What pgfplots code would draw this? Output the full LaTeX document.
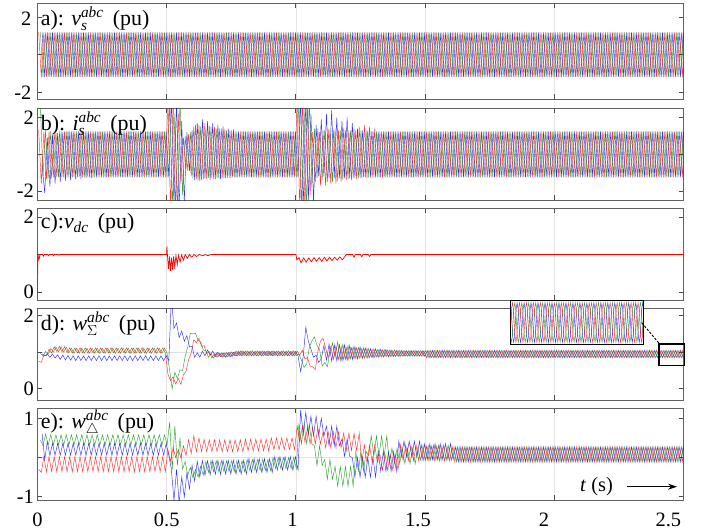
\documentclass[border=0pt]{standalone}
\usepackage{fontspec}
\setmainfont{Liberation Serif}
\usepackage{pgfplots}
\pgfplotsset{compat=1.18}
\usepackage{pgfplotstable}
\usetikzlibrary{arrows.meta}

\definecolor{phr}{RGB}{255,0,0}
\definecolor{phg}{RGB}{0,140,0}
\definecolor{phb}{RGB}{0,0,255}
\newcommand\mi[1]{\mathit{#1}}

% one sample per half cycle (50 Hz), row k at t = 0.005 + 0.01k for phase a
\pgfplotstableread[row sep=\\]{
v\\
1.2\\-1.2\\1.2\\-1.2\\1.2\\-1.2\\1.2\\-1.2\\1.2\\-1.2\\
1.2\\-1.2\\1.2\\-1.2\\1.2\\-1.2\\1.2\\-1.2\\1.2\\-1.2\\
1.2\\-1.2\\1.2\\-1.2\\1.2\\-1.2\\1.2\\-1.2\\1.2\\-1.2\\
1.2\\-1.2\\1.2\\-1.2\\1.2\\-1.2\\1.2\\-1.2\\1.2\\-1.2\\
1.2\\-1.2\\1.2\\-1.2\\1.2\\-1.2\\1.2\\-1.2\\1.2\\-1.2\\
1.2\\-1.2\\1.2\\-1.2\\1.2\\-1.2\\1.2\\-1.2\\1.2\\-1.2\\
1.2\\-1.2\\1.2\\-1.2\\1.2\\-1.2\\1.2\\-1.2\\1.2\\-1.2\\
1.2\\-1.2\\1.2\\-1.2\\1.2\\-1.2\\1.2\\-1.2\\1.2\\-1.2\\
1.2\\-1.2\\1.2\\-1.2\\1.2\\-1.2\\1.2\\-1.2\\1.2\\-1.2\\
1.2\\-1.2\\1.2\\-1.2\\1.2\\-1.2\\1.2\\-1.2\\1.2\\-1.2\\
1.2\\-1.2\\1.2\\-1.2\\1.2\\-1.2\\1.2\\-1.2\\1.2\\-1.2\\
1.2\\-1.2\\1.2\\-1.2\\1.2\\-1.2\\1.2\\-1.2\\1.2\\-1.2\\
1.2\\-1.2\\1.2\\-1.2\\1.2\\-1.2\\1.2\\-1.2\\1.2\\-1.2\\
1.2\\-1.2\\1.2\\-1.2\\1.2\\-1.2\\1.2\\-1.2\\1.2\\-1.2\\
1.2\\-1.2\\1.2\\-1.2\\1.2\\-1.2\\1.2\\-1.2\\1.2\\-1.2\\
1.2\\-1.2\\1.2\\-1.2\\1.2\\-1.2\\1.2\\-1.2\\1.2\\-1.2\\
1.2\\-1.2\\1.2\\-1.2\\1.2\\-1.2\\1.2\\-1.2\\1.2\\-1.2\\
1.2\\-1.2\\1.2\\-1.2\\1.2\\-1.2\\1.2\\-1.2\\1.2\\-1.2\\
1.2\\-1.2\\1.2\\-1.2\\1.2\\-1.2\\1.2\\-1.2\\1.2\\-1.2\\
1.2\\-1.2\\1.2\\-1.2\\1.2\\-1.2\\1.2\\-1.2\\1.2\\-1.2\\
1.2\\-1.2\\1.2\\-1.2\\1.2\\-1.2\\1.2\\-1.2\\1.2\\-1.2\\
1.2\\-1.2\\1.2\\-1.2\\1.2\\-1.2\\1.2\\-1.2\\1.2\\-1.2\\
1.2\\-1.2\\1.2\\-1.2\\1.2\\-1.2\\1.2\\-1.2\\1.2\\-1.2\\
1.2\\-1.2\\1.2\\-1.2\\1.2\\-1.2\\1.2\\-1.2\\1.2\\-1.2\\
1.2\\-1.2\\1.2\\-1.2\\1.2\\-1.2\\1.2\\-1.2\\1.2\\-1.2\\
1.2\\
}\tba

% currents i_s (columns: red, green, blue)
\pgfplotstableread[row sep=\\]{
A B C\\
1.3 2.6 -0.6\\-1.6 -1.2 -2.1\\1.25 1.3 0.9\\-1.35 -1.3 -1.75\\1.25 1.25 1.05\\-1.3 -1.25 -1.6\\1.25 1.25 1.15\\-1.25 -1.25 -1.5\\1.25 1.25 1.2\\-1.25 -1.25 -1.45\\
1.25 1.25 1.25\\-1.25 -1.25 -1.4\\1.25 1.25 1.25\\-1.25 -1.25 -1.35\\1.25 1.25 1.25\\-1.25 -1.25 -1.35\\1.25 1.25 1.25\\-1.25 -1.25 -1.3\\1.25 1.25 1.25\\-1.25 -1.25 -1.3\\
1.25 1.25 1.25\\-1.25 -1.25 -1.25\\1.25 1.25 1.25\\-1.25 -1.25 -1.25\\1.25 1.25 1.25\\-1.25 -1.25 -1.25\\1.25 1.25 1.25\\-1.25 -1.25 -1.25\\1.25 1.25 1.25\\-1.25 -1.25 -1.25\\
1.25 1.25 1.25\\-1.25 -1.25 -1.25\\1.25 1.25 1.25\\-1.25 -1.25 -1.25\\1.25 1.25 1.25\\-1.25 -1.25 -1.25\\1.25 1.25 1.25\\-1.25 -1.25 -1.25\\1.25 1.25 1.25\\-1.25 -1.25 -1.25\\
1.25 1.25 1.25\\-1.25 -1.25 -1.25\\1.25 1.25 1.25\\-1.25 -1.25 -1.25\\1.25 1.25 1.25\\-1.25 -1.25 -1.25\\1.25 1.25 1.25\\-1.25 -1.25 -1.25\\1.25 1.25 1.25\\-1.25 -1.25 -1.25\\
3 2.8 3\\-3 -3 -2.8\\3 2.2 3\\-3 -3 -3\\2.2 3 1.8\\-1.6 -2.2 -2.6\\0.9 1 1.2\\-0.8 -0.9 -0.9\\1.1 1.2 1.3\\-1.2 -1.3 -1.4\\
1.5 1.6 1.7\\-1.35 -1.4 -1.45\\1.6 1.5 1.9\\-1.4 -1.35 -1.3\\1.7 1.45 1.8\\-1.35 -1.3 -1.4\\1.55 1.5 1.7\\-1.3 -1.35 -1.35\\1.5 1.4 1.6\\-1.3 -1.3 -1.35\\
1.4 1.4 1.5\\-1.3 -1.3 -1.3\\1.35 1.3 1.4\\-1.28 -1.3 -1.28\\1.3 1.3 1.35\\-1.25 -1.25 -1.25\\1.25 1.25 1.25\\-1.25 -1.25 -1.25\\1.25 1.25 1.25\\-1.25 -1.25 -1.25\\
1.25 1.25 1.25\\-1.25 -1.25 -1.25\\1.25 1.25 1.25\\-1.25 -1.25 -1.25\\1.25 1.25 1.25\\-1.25 -1.25 -1.25\\1.25 1.25 1.25\\-1.25 -1.25 -1.25\\1.25 1.25 1.25\\-1.25 -1.25 -1.25\\
1.25 1.25 1.25\\-1.25 -1.25 -1.25\\1.25 1.25 1.25\\-1.25 -1.25 -1.25\\1.25 1.25 1.25\\-1.25 -1.25 -1.25\\1.25 1.25 1.25\\-1.25 -1.25 -1.25\\1.25 1.25 1.25\\-1.25 -1.25 -1.25\\
3 3 3\\-3 -3 -3\\3 2.6 3\\-3 -3 -2.5\\2.5 3 2.2\\-2.2 -1.8 -2.6\\1.2 1.4 1.6\\-1.5 -1.3 -1.2\\1.4 1.2 1.9\\-1.7 -1.4 -1.2\\
1.3 1.3 2.2\\-1.7 -1.5 -1.3\\1.4 1.3 2.4\\-1.6 -1.5 -1.3\\1.3 1.4 2\\-1.6 -1.45 -1.3\\1.3 1.3 1.8\\-1.5 -1.4 -1.3\\1.4 1.3 2\\-1.4 -1.35 -1.3\\
1.3 1.3 1.7\\-1.4 -1.3 -1.3\\1.4 1.3 1.4\\-1.35 -1.3 -1.28\\1.5 1.3 1.3\\-1.3 -1.25 -1.25\\1.6 1.3 1.3\\-1.3 -1.25 -1.25\\1.5 1.25 1.25\\-1.28 -1.25 -1.25\\
1.4 1.25 1.25\\-1.25 -1.25 -1.25\\1.25 1.25 1.25\\-1.25 -1.25 -1.25\\1.25 1.25 1.25\\-1.25 -1.25 -1.25\\1.25 1.25 1.25\\-1.25 -1.25 -1.25\\1.25 1.25 1.25\\-1.25 -1.25 -1.25\\
1.25 1.25 1.25\\-1.25 -1.25 -1.25\\1.25 1.25 1.25\\-1.25 -1.25 -1.25\\1.25 1.25 1.25\\-1.25 -1.25 -1.25\\1.25 1.25 1.25\\-1.25 -1.25 -1.25\\1.25 1.25 1.25\\-1.25 -1.25 -1.25\\
1.25 1.25 1.25\\-1.25 -1.25 -1.25\\1.25 1.25 1.25\\-1.25 -1.25 -1.25\\1.25 1.25 1.25\\-1.25 -1.25 -1.25\\1.25 1.25 1.25\\-1.25 -1.25 -1.25\\1.25 1.25 1.25\\-1.25 -1.25 -1.25\\
1.25 1.25 1.25\\-1.25 -1.25 -1.25\\1.25 1.25 1.25\\-1.25 -1.25 -1.25\\1.25 1.25 1.25\\-1.25 -1.25 -1.25\\1.25 1.25 1.25\\-1.25 -1.25 -1.25\\1.25 1.25 1.25\\-1.25 -1.25 -1.25\\
1.25 1.25 1.25\\-1.25 -1.25 -1.25\\1.25 1.25 1.25\\-1.25 -1.25 -1.25\\1.25 1.25 1.25\\-1.25 -1.25 -1.25\\1.25 1.25 1.25\\-1.25 -1.25 -1.25\\1.25 1.25 1.25\\-1.25 -1.25 -1.25\\
1.25 1.25 1.25\\-1.25 -1.25 -1.25\\1.25 1.25 1.25\\-1.25 -1.25 -1.25\\1.25 1.25 1.25\\-1.25 -1.25 -1.25\\1.25 1.25 1.25\\-1.25 -1.25 -1.25\\1.25 1.25 1.25\\-1.25 -1.25 -1.25\\
1.25 1.25 1.25\\-1.25 -1.25 -1.25\\1.25 1.25 1.25\\-1.25 -1.25 -1.25\\1.25 1.25 1.25\\-1.25 -1.25 -1.25\\1.25 1.25 1.25\\-1.25 -1.25 -1.25\\1.25 1.25 1.25\\-1.25 -1.25 -1.25\\
1.25 1.25 1.25\\-1.25 -1.25 -1.25\\1.25 1.25 1.25\\-1.25 -1.25 -1.25\\1.25 1.25 1.25\\-1.25 -1.25 -1.25\\1.25 1.25 1.25\\-1.25 -1.25 -1.25\\1.25 1.25 1.25\\-1.25 -1.25 -1.25\\
1.25 1.25 1.25\\-1.25 -1.25 -1.25\\1.25 1.25 1.25\\-1.25 -1.25 -1.25\\1.25 1.25 1.25\\-1.25 -1.25 -1.25\\1.25 1.25 1.25\\-1.25 -1.25 -1.25\\1.25 1.25 1.25\\-1.25 -1.25 -1.25\\
1.25 1.25 1.25\\-1.25 -1.25 -1.25\\1.25 1.25 1.25\\-1.25 -1.25 -1.25\\1.25 1.25 1.25\\-1.25 -1.25 -1.25\\1.25 1.25 1.25\\-1.25 -1.25 -1.25\\1.25 1.25 1.25\\-1.25 -1.25 -1.25\\
1.25 1.25 1.25\\-1.25 -1.25 -1.25\\1.25 1.25 1.25\\-1.25 -1.25 -1.25\\1.25 1.25 1.25\\-1.25 -1.25 -1.25\\1.25 1.25 1.25\\-1.25 -1.25 -1.25\\1.25 1.25 1.25\\-1.25 -1.25 -1.25\\
1.25 1.25 1.25\\-1.25 -1.25 -1.25\\1.25 1.25 1.25\\-1.25 -1.25 -1.25\\1.25 1.25 1.25\\-1.25 -1.25 -1.25\\1.25 1.25 1.25\\-1.25 -1.25 -1.25\\1.25 1.25 1.25\\-1.25 -1.25 -1.25\\
1.25 1.25 1.25\\-1.25 -1.25 -1.25\\1.25 1.25 1.25\\-1.25 -1.25 -1.25\\1.25 1.25 1.25\\-1.25 -1.25 -1.25\\1.25 1.25 1.25\\-1.25 -1.25 -1.25\\1.25 1.25 1.25\\-1.25 -1.25 -1.25\\
1.25 1.25 1.25\\
}\tbb

% sum energies w_sigma
\pgfplotstableread[row sep=\\]{
A B C\\
0.75 0.97 0.95\\0.72 0.9 0.9\\0.92 1.02 0.95\\0.9 0.95 0.86\\1.08 1.1 0.95\\0.98 1 0.84\\1.15 1.14 0.93\\1.02 1.01 0.8\\1.16 1.15 0.92\\1.01 1 0.79\\
1.15 1.14 0.91\\0.99 0.98 0.78\\1.12 1.11 0.9\\0.98 0.97 0.77\\1.12 1.11 0.9\\0.98 0.97 0.77\\1.12 1.11 0.9\\0.98 0.97 0.77\\1.12 1.11 0.9\\0.98 0.97 0.77\\
1.12 1.11 0.9\\0.98 0.97 0.77\\1.12 1.11 0.9\\0.98 0.97 0.77\\1.12 1.11 0.9\\0.98 0.97 0.77\\1.12 1.11 0.9\\0.98 0.97 0.77\\1.12 1.11 0.9\\0.98 0.97 0.77\\
1.12 1.11 0.9\\0.98 0.97 0.77\\1.12 1.11 0.9\\0.98 0.97 0.77\\1.12 1.11 0.9\\0.98 0.97 0.77\\1.12 1.11 0.9\\0.98 0.97 0.77\\1.12 1.11 0.9\\0.98 0.97 0.77\\
1.12 1.11 0.9\\0.98 0.97 0.77\\1.12 1.11 0.9\\0.98 0.97 0.77\\1.12 1.11 0.9\\0.98 0.97 0.77\\1.12 1.11 0.9\\0.98 0.97 0.77\\1.12 1.11 0.9\\0.98 0.97 0.77\\
0.4 0.5 2.5\\0.22 0 1.65\\0.33 0.45 1.8\\0.13 0.28 1.4\\0.28 0.52 1.58\\0.12 0.5 1.3\\0.38 0.88 1.45\\0.48 1.15 1.15\\0.8 1.52 1.15\\0.98 1.5 0.86\\
1.34 1.52 0.98\\1.26 1.32 0.86\\1.38 1.28 1.03\\1.16 1.06 0.9\\1.18 1.04 1.06\\0.96 0.86 0.92\\1.02 0.96 1.03\\0.84 0.84 0.88\\0.96 0.98 1\\0.86 0.88 0.88\\
0.97 0.98 0.98\\0.86 0.87 0.86\\0.98 0.99 0.99\\0.87 0.88 0.87\\1 1.01 1\\0.89 0.9 0.89\\1.02 1.03 1.02\\0.9 0.91 0.9\\1.03 1.04 1.02\\0.9 0.91 0.9\\
1.03 1.04 1.02\\0.9 0.91 0.9\\1.03 1.04 1.02\\0.9 0.91 0.9\\1.03 1.04 1.02\\0.9 0.91 0.9\\1.03 1.04 1.02\\0.9 0.91 0.9\\1.03 1.04 1.02\\0.9 0.91 0.9\\
1.03 1.04 1.02\\0.9 0.91 0.9\\1.03 1.04 1.02\\0.9 0.91 0.9\\1.03 1.04 1.02\\0.9 0.91 0.9\\1.03 1.04 1.02\\0.9 0.91 0.9\\1.03 1.04 1.02\\0.9 0.91 0.9\\
1.03 0.95 0.47\\0.92 0.78 0.88\\1.05 0.58 1.68\\0.82 0.68 1.3\\0.85 1.12 1.08\\0.62 1.3 0.86\\0.6 1.42 0.92\\0.52 1.18 0.72\\1.02 1.08 0.82\\1.3 0.62 1.18\\
1.38 0.72 0.78\\1.12 0.6 1.22\\0.85 1 0.76\\1.15 1.25 1.2\\0.8 0.85 0.76\\1.18 1.28 1.2\\0.8 0.78 0.76\\1.15 1.22 1.2\\0.8 0.8 0.78\\1.12 1.18 1.18\\
0.8 0.82 0.8\\1.12 1.15 1.15\\0.82 0.83 0.82\\1.12 1.13 1.14\\0.83 0.84 0.83\\1.1 1.12 1.12\\0.84 0.85 0.84\\1.1 1.1 1.1\\0.85 0.86 0.85\\1.08 1.09 1.09\\
0.86 0.87 0.86\\1.07 1.08 1.08\\0.87 0.87 0.87\\1.06 1.07 1.07\\0.88 0.88 0.87\\1.06 1.06 1.06\\0.88 0.88 0.88\\1.05 1.06 1.05\\0.88 0.89 0.88\\1.05 1.05 1.05\\
0.89 0.89 0.89\\1.04 1.05 1.04\\0.89 0.89 0.89\\1.04 1.05 1.04\\0.89 0.89 0.89\\1.04 1.05 1.04\\0.89 0.89 0.89\\1.04 1.05 1.04\\0.89 0.89 0.89\\1.04 1.05 1.04\\
0.85 0.85 0.85\\1.05 1.05 1.05\\0.85 0.85 0.85\\1.05 1.05 1.05\\0.85 0.85 0.85\\1.05 1.05 1.05\\0.85 0.85 0.85\\1.05 1.05 1.05\\0.85 0.85 0.85\\1.05 1.05 1.05\\
0.85 0.85 0.85\\1.05 1.05 1.05\\0.85 0.85 0.85\\1.05 1.05 1.05\\0.85 0.85 0.85\\1.05 1.05 1.05\\0.85 0.85 0.85\\1.05 1.05 1.05\\0.85 0.85 0.85\\1.05 1.05 1.05\\
0.85 0.85 0.85\\1.05 1.05 1.05\\0.85 0.85 0.85\\1.05 1.05 1.05\\0.85 0.85 0.85\\1.05 1.05 1.05\\0.85 0.85 0.85\\1.05 1.05 1.05\\0.85 0.85 0.85\\1.05 1.05 1.05\\
0.85 0.85 0.85\\1.05 1.05 1.05\\0.85 0.85 0.85\\1.05 1.05 1.05\\0.85 0.85 0.85\\1.05 1.05 1.05\\0.85 0.85 0.85\\1.05 1.05 1.05\\0.85 0.85 0.85\\1.05 1.05 1.05\\
0.85 0.85 0.85\\1.05 1.05 1.05\\0.85 0.85 0.85\\1.05 1.05 1.05\\0.85 0.85 0.85\\1.05 1.05 1.05\\0.85 0.85 0.85\\1.05 1.05 1.05\\0.85 0.85 0.85\\1.05 1.05 1.05\\
0.85 0.85 0.85\\1.05 1.05 1.05\\0.85 0.85 0.85\\1.05 1.05 1.05\\0.85 0.85 0.85\\1.05 1.05 1.05\\0.85 0.85 0.85\\1.05 1.05 1.05\\0.85 0.85 0.85\\1.05 1.05 1.05\\
0.85 0.85 0.85\\1.05 1.05 1.05\\0.85 0.85 0.85\\1.05 1.05 1.05\\0.85 0.85 0.85\\1.05 1.05 1.05\\0.85 0.85 0.85\\1.05 1.05 1.05\\0.85 0.85 0.85\\1.05 1.05 1.05\\
0.85 0.85 0.85\\1.05 1.05 1.05\\0.85 0.85 0.85\\1.05 1.05 1.05\\0.85 0.85 0.85\\1.05 1.05 1.05\\0.85 0.85 0.85\\1.05 1.05 1.05\\0.85 0.85 0.85\\1.05 1.05 1.05\\
0.85 0.85 0.85\\1.05 1.05 1.05\\0.85 0.85 0.85\\1.05 1.05 1.05\\0.85 0.85 0.85\\1.05 1.05 1.05\\0.85 0.85 0.85\\1.05 1.05 1.05\\0.85 0.85 0.85\\1.05 1.05 1.05\\
0.85 0.85 0.85\\1.05 1.05 1.05\\0.85 0.85 0.85\\1.05 1.05 1.05\\0.85 0.85 0.85\\1.05 1.05 1.05\\0.85 0.85 0.85\\1.05 1.05 1.05\\0.85 0.85 0.85\\1.05 1.05 1.05\\
0.85 0.85 0.85\\
}\tbd

% difference energies w_delta
\pgfplotstableread[row sep=\\]{
A B C\\
-0.3 0.45 0.6\\-0.38 0.3 -0.05\\0.02 0.6 0.4\\-0.36 0.32 0.05\\0.02 0.58 0.36\\-0.36 0.32 0.06\\0.02 0.58 0.36\\-0.36 0.32 0.06\\0.02 0.58 0.36\\-0.36 0.32 0.06\\
0.02 0.58 0.36\\-0.36 0.32 0.06\\0.02 0.58 0.36\\-0.36 0.32 0.06\\0.02 0.58 0.36\\-0.36 0.32 0.06\\0.02 0.58 0.36\\-0.36 0.32 0.06\\0.02 0.58 0.36\\-0.36 0.32 0.06\\
0.02 0.58 0.36\\-0.36 0.32 0.06\\0.02 0.58 0.36\\-0.36 0.32 0.06\\0.02 0.58 0.36\\-0.36 0.32 0.06\\0.02 0.58 0.36\\-0.36 0.32 0.06\\0.02 0.58 0.36\\-0.36 0.32 0.06\\
0.02 0.58 0.36\\-0.36 0.32 0.06\\0.02 0.58 0.36\\-0.36 0.32 0.06\\0.02 0.58 0.36\\-0.36 0.32 0.06\\0.02 0.58 0.36\\-0.36 0.32 0.06\\0.02 0.58 0.36\\-0.36 0.32 0.06\\
0.02 0.58 0.36\\-0.36 0.32 0.06\\0.02 0.58 0.36\\-0.36 0.32 0.06\\0.02 0.58 0.36\\-0.36 0.32 0.06\\0.02 0.58 0.36\\-0.36 0.32 0.06\\0.02 0.58 0.36\\-0.36 0.32 0.06\\
0.2 0.9 -0.3\\-0.1 -0.3 -1.1\\0.25 0.8 -0.3\\0 -0.2 -1.15\\0.2 0.5 -0.5\\0 -0.3 -1\\0.3 -0.1 -0.4\\0.05 -0.45 -0.8\\0.45 -0.25 -0.2\\0.1 -0.52 -0.6\\
0.55 -0.3 -0.1\\0.15 -0.5 -0.5\\0.5 -0.22 -0.08\\0.15 -0.45 -0.45\\0.46 -0.1 -0.08\\0.15 -0.38 -0.44\\0.45 -0.08 -0.08\\0.15 -0.36 -0.43\\0.45 -0.08 -0.07\\0.15 -0.36 -0.43\\
0.45 -0.08 -0.07\\0.15 -0.36 -0.42\\0.45 -0.08 -0.07\\0.15 -0.36 -0.42\\0.45 -0.08 -0.07\\0.15 -0.36 -0.42\\0.45 -0.08 -0.07\\0.15 -0.36 -0.42\\0.45 -0.08 -0.07\\0.15 -0.36 -0.42\\
0.47 -0.05 -0.03\\0.17 -0.33 -0.38\\0.47 -0.05 -0.03\\0.17 -0.33 -0.38\\0.47 -0.05 -0.03\\0.17 -0.33 -0.38\\0.47 -0.05 -0.03\\0.17 -0.33 -0.38\\0.47 -0.05 -0.03\\0.17 -0.33 -0.38\\
0.5 0 0.02\\0.2 -0.28 -0.32\\0.5 0 0.02\\0.2 -0.28 -0.32\\0.5 0 0.02\\0.2 -0.28 -0.32\\0.5 0 0.02\\0.2 -0.28 -0.32\\0.5 0 0.02\\0.2 -0.28 -0.32\\
0.8 0.87 1.21\\0.4 0.35 0.6\\0.8 0.85 1.15\\0.4 0.35 0.6\\0.75 0.85 1.05\\0.35 0.35 0.55\\0.75 0.3 1.05\\0.35 -0.2 0.55\\0.75 0.3 1\\0.35 -0.2 0.55\\
0.65 -0.05 0.8\\0.25 -0.55 0.3\\0.65 -0.05 0.8\\0.25 -0.55 0.3\\0.65 -0.23 0.8\\0.25 -0.73 0.3\\0.65 -0.23 0.47\\0.25 -0.73 0.03\\0.62 -0.23 0.47\\0.18 -0.73 0.03\\
0.62 -0.23 0\\0.18 -0.73 -0.5\\0.62 0.15 0\\0.18 -0.35 -0.5\\0.62 0.15 0\\-0.12 -0.35 -0.5\\0.32 0.15 0\\-0.12 0.05 -0.5\\0.32 0.55 0\\-0.12 0.05 -0.5\\
0.32 0.55 0.15\\-0.12 0.05 -0.35\\0.08 0.55 0.15\\-0.32 0.05 -0.35\\0.08 0.55 0.15\\-0.32 -0.16 -0.35\\0.08 0.24 0.15\\-0.32 -0.16 -0.35\\0.08 0.24 0.42\\-0.32 -0.16 0.02\\
0.32 0.24 0.42\\-0.08 -0.16 0.02\\0.32 0.24 0.42\\-0.08 -0.16 0.02\\0.32 0.24 0.42\\-0.08 -0.16 0.02\\0.32 0.24 0.42\\-0.08 -0.07 -0.05\\0.32 0.31 0.35\\-0.08 -0.07 -0.05\\
0.29 0.31 0.35\\-0.09 -0.07 -0.05\\0.29 0.31 0.35\\-0.09 -0.07 -0.05\\0.29 0.31 0.35\\-0.09 -0.07 -0.05\\0.29 0.31 0.35\\-0.09 -0.07 -0.05\\0.29 0.31 0.35\\-0.09 -0.07 -0.05\\
0.27 0.27 0.27\\-0.11 -0.11 -0.11\\0.27 0.27 0.27\\-0.11 -0.11 -0.11\\0.27 0.27 0.27\\-0.11 -0.11 -0.11\\0.27 0.27 0.27\\-0.11 -0.11 -0.11\\0.27 0.27 0.27\\-0.11 -0.11 -0.11\\
0.27 0.27 0.27\\-0.11 -0.11 -0.11\\0.27 0.27 0.27\\-0.11 -0.11 -0.11\\0.27 0.27 0.27\\-0.11 -0.11 -0.11\\0.27 0.27 0.27\\-0.11 -0.11 -0.11\\0.27 0.27 0.27\\-0.11 -0.11 -0.11\\
0.27 0.27 0.27\\-0.11 -0.11 -0.11\\0.27 0.27 0.27\\-0.11 -0.11 -0.11\\0.27 0.27 0.27\\-0.11 -0.11 -0.11\\0.27 0.27 0.27\\-0.11 -0.11 -0.11\\0.27 0.27 0.27\\-0.11 -0.11 -0.11\\
0.27 0.27 0.27\\-0.11 -0.11 -0.11\\0.27 0.27 0.27\\-0.11 -0.11 -0.11\\0.27 0.27 0.27\\-0.11 -0.11 -0.11\\0.27 0.27 0.27\\-0.11 -0.11 -0.11\\0.27 0.27 0.27\\-0.11 -0.11 -0.11\\
0.27 0.27 0.27\\-0.11 -0.11 -0.11\\0.27 0.27 0.27\\-0.11 -0.11 -0.11\\0.27 0.27 0.27\\-0.11 -0.11 -0.11\\0.27 0.27 0.27\\-0.11 -0.11 -0.11\\0.27 0.27 0.27\\-0.11 -0.11 -0.11\\
0.27 0.27 0.27\\-0.11 -0.11 -0.11\\0.27 0.27 0.27\\-0.11 -0.11 -0.11\\0.27 0.27 0.27\\-0.11 -0.11 -0.11\\0.27 0.27 0.27\\-0.11 -0.11 -0.11\\0.27 0.27 0.27\\-0.11 -0.11 -0.11\\
0.27 0.27 0.27\\-0.11 -0.11 -0.11\\0.27 0.27 0.27\\-0.11 -0.11 -0.11\\0.27 0.27 0.27\\-0.11 -0.11 -0.11\\0.27 0.27 0.27\\-0.11 -0.11 -0.11\\0.27 0.27 0.27\\-0.11 -0.11 -0.11\\
0.27 0.27 0.27\\-0.11 -0.11 -0.11\\0.27 0.27 0.27\\-0.11 -0.11 -0.11\\0.27 0.27 0.27\\-0.11 -0.11 -0.11\\0.27 0.27 0.27\\-0.11 -0.11 -0.11\\0.27 0.27 0.27\\-0.11 -0.11 -0.11\\
0.27 0.27 0.27\\-0.11 -0.11 -0.11\\0.27 0.27 0.27\\-0.11 -0.11 -0.11\\0.27 0.27 0.27\\-0.11 -0.11 -0.11\\0.27 0.27 0.27\\-0.11 -0.11 -0.11\\0.27 0.27 0.27\\-0.11 -0.11 -0.11\\
0.27 0.27 0.27\\
}\tbe

% zoomed window, 8 samples per cycle
\pgfplotstableread[row sep=\\]{
s\\
0\\0.71\\1\\0.71\\0\\-0.71\\-1\\-0.71\\0\\0.71\\1\\0.71\\0\\-0.71\\-1\\-0.71\\
0\\0.71\\1\\0.71\\0\\-0.71\\-1\\-0.71\\0\\0.71\\1\\0.71\\0\\-0.71\\-1\\-0.71\\
0\\0.71\\1\\0.71\\0\\-0.71\\-1\\-0.71\\0\\0.71\\1\\0.71\\0\\-0.71\\-1\\-0.71\\
0\\0.71\\1\\0.71\\0\\-0.71\\-1\\-0.71\\0\\0.71\\1\\0.71\\0\\-0.71\\-1\\-0.71\\
0\\0.71\\1\\0.71\\0\\-0.71\\-1\\-0.71\\0\\0.71\\1\\0.71\\0\\-0.71\\-1\\-0.71\\
0\\0.71\\1\\0.71\\0\\-0.71\\-1\\-0.71\\0\\0.71\\1\\0.71\\0\\-0.71\\-1\\-0.71\\
0\\0.71\\1\\0.71\\0\\-0.71\\-1\\-0.71\\0\\0.71\\1\\0.71\\0\\-0.71\\-1\\-0.71\\
0\\0.71\\1\\0.71\\0\\-0.71\\-1\\-0.71\\0\\0.71\\1\\0.71\\0\\-0.71\\-1\\-0.71\\
0\\0.71\\1\\0.71\\0\\-0.71\\-1\\-0.71\\0\\0.71\\1\\0.71\\0\\-0.71\\-1\\-0.71\\
0\\0.71\\1\\0.71\\0\\-0.71\\-1\\-0.71\\0\\0.71\\1\\0.71\\0\\-0.71\\-1\\-0.71\\
0\\0.71\\1\\0.71\\0\\-0.71\\-1\\-0.71\\
0\\
}\tbi

\pgfplotsset{
  panel/.style={
    scale only axis, width=646.2bp, xmin=0, xmax=2.5,
    axis line style={draw=black!62, line width=0.8bp},
    tick style={draw=black!70, line width=0.8bp},
    major tick length=5bp, tick align=inside,
    xtick={0,0.5,1,1.5,2,2.5}, xticklabels={},
    xmajorgrids=true, grid style={black!11, line width=0.6bp},
    extra y tick labels={}, extra y tick style={grid=major},
    yticklabel style={font=\fontsize{20.5}{21}\selectfont},
  },
  ph/.style={line width=0.45bp, opacity=0.8},
}
\tikzset{
  lab/.style={anchor=base west, inner sep=0pt, xshift=3.3bp, yshift=-22bp,
    font=\fontsize{22}{23}\selectfont},
  tl/.style={inner sep=0pt, font=\fontsize{20.5}{21}\selectfont},
}

\begin{document}
\begin{tikzpicture}
\useasboundingbox (0,0) rectangle (713bp,529bp);

\begin{axis}[panel, at={(37.4bp,429.5bp)}, anchor=south west, height=96bp,
  ymin=-2.4, ymax=2.75, ytick={-2,0,2}, yticklabels={{},{},{}}, extra y ticks={0}]
\addplot[phb,ph] table[x expr=\coordindex*0.01+0.01833, y=v]{\tba};
\addplot[phg,ph] table[x expr=\coordindex*0.01+0.01167, y=v]{\tba};
\addplot[phr,ph] table[x expr=\coordindex*0.01+0.005, y=v]{\tba};
\node[lab] at (rel axis cs:0,1) {a): $\mi{v}_{\mi{s}}^{\mi{abc}}$\, (pu)};
\end{axis}
\node[tl, anchor=east] at (31.5bp,510.7bp) {2};
\node[tl, anchor=east] at (31.5bp,436bp) {-2};

\begin{axis}[panel, at={(37.4bp,328.7bp)}, anchor=south west, height=92bp,
  ymin=-2.5, ymax=2.5, ytick={-2,2}, yticklabels={-2,2}, extra y ticks={0}]
\addplot[phb,ph] table[x expr=\coordindex*0.01+0.01833, y=C]{\tbb};
\addplot[phg,ph] table[x expr=\coordindex*0.01+0.01167, y=B]{\tbb};
\addplot[phr,ph] table[x expr=\coordindex*0.01+0.005, y=A]{\tbb};
\node[lab] at (rel axis cs:0,1) {b): $\mi{i}_{\mi{s}}^{\mi{abc}}$\, (pu)};
\end{axis}

\begin{axis}[panel, at={(37.4bp,228.7bp)}, anchor=south west, height=92bp,
  ymin=-0.215, ymax=2.23, ytick={0,2}, yticklabels={0,2}, extra y ticks={1}]
\addplot[phr, line width=0.7bp] coordinates {
(0,0) (0.002,1) (0.006,0.86) (0.01,1) (0.02,1) (0.023,0.96) (0.026,1) (0.04,1) (0.043,0.97) (0.046,1)
(0.06,1) (0.063,0.97) (0.066,1) (0.08,1) (0.083,0.98) (0.086,1) (0.5,1) (0.501,1.22) (0.504,0.9)
(0.507,0.62) (0.511,0.95) (0.515,0.57) (0.519,0.92) (0.523,0.6) (0.527,0.95) (0.531,0.68) (0.536,0.97)
(0.541,0.74) (0.546,0.98) (0.552,0.8) (0.558,0.99) (0.565,0.85) (0.572,1) (0.58,0.9) (0.588,1)
(0.597,0.93) (0.606,1) (0.616,0.95) (0.626,1) (0.64,0.97) (0.65,1) (0.66,0.97) (0.67,1) (1,1)
(1.004,0.86) (1.012,0.92) (1.02,0.78) (1.03,0.91) (1.04,0.8) (1.05,0.91) (1.06,0.81) (1.07,0.92)
(1.08,0.82) (1.09,0.92) (1.1,0.82) (1.11,0.93) (1.12,0.83) (1.13,0.93) (1.14,0.84) (1.15,0.93)
(1.16,0.85) (1.17,0.94) (1.18,0.86) (1.19,0.95) (1.195,1) (1.22,1) (1.225,0.93) (1.23,1) (1.25,1)
(1.255,0.94) (1.26,1) (1.28,1) (1.285,0.95) (1.29,1) (2.5,1)};
\node[lab, yshift=1.5bp] at (rel axis cs:0,1) {c):$\mi{v}_{\mi{dc}}$\, (pu)};
\end{axis}

\begin{axis}[panel, at={(37.4bp,128.7bp)}, anchor=south west, height=92bp,
  ymin=-0.315, ymax=2.2, ytick={0,2}, yticklabels={0,2}, extra y ticks={1}]
\addplot[phb,ph] table[x expr=\coordindex*0.01+0.01833, y=C]{\tbd};
\addplot[phg,ph] table[x expr=\coordindex*0.01+0.01167, y=B]{\tbd};
\addplot[phr,ph] table[x expr=\coordindex*0.01+0.005, y=A]{\tbd};
\node[lab] at (rel axis cs:0,1) {d): $\mi{w}_{\Sigma}^{\mi{abc}}$\, (pu)};
\end{axis}

\begin{axis}[panel, at={(37.4bp,28.7bp)}, anchor=south west, height=92bp,
  ymin=-1.09, ymax=1.255, ytick={-1,1}, yticklabels={-1,1}, extra y ticks={0}]
\addplot[phb,ph] table[x expr=\coordindex*0.01+0.01833, y=C]{\tbe};
\addplot[phg,ph] table[x expr=\coordindex*0.01+0.01167, y=B]{\tbe};
\addplot[phr,ph] table[x expr=\coordindex*0.01+0.005, y=A]{\tbe};
\node[lab, yshift=2bp] at (rel axis cs:0,1) {e): $\mi{w}_{\triangle}^{\mi{abc}}$\, (pu)};
\end{axis}

% zoom window
\begin{axis}[at={(510.7bp,184.7bp)}, anchor=south west, scale only axis,
  width=132.6bp, height=43.6bp, xmin=0, xmax=152, ymin=-1.1, ymax=1.1,
  ticks=none, axis line style={draw=black, line width=1.4bp},
  axis background/.style={fill=white}]
\addplot[phb,ph] table[x expr=\coordindex-8+5.333, y=s]{\tbi};
\addplot[phg,ph] table[x expr=\coordindex-8+2.667, y=s]{\tbi};
\addplot[phr,ph] table[x expr=\coordindex-8, y=s]{\tbi};
\end{axis}
\draw[black, line width=1.1bp] (659bp,163.3bp) rectangle (684.3bp,185bp);
\draw[black, line width=0.9bp, dash pattern=on 2.5bp off 1.5bp] (641.7bp,206.3bp) -- (659bp,185.7bp);

% time axis labels
\begin{scope}[every node/.style={anchor=base, inner sep=0pt, font=\fontsize{20.5}{21}\selectfont}]
\node at (37.5bp,3bp) {0};
\node at (166.7bp,3bp) {0.5};
\node at (292.5bp,3bp) {1};
\node at (418bp,3bp) {1.5};
\node at (544bp,3bp) {2};
\node at (668.3bp,3bp) {2.5};
\node at (596.5bp,38bp) {\textit{t} (s)};
\end{scope}
\draw[-{Stealth[length=9bp,width=6bp]}, line width=0.8bp] (626.7bp,42.3bp) -- (677bp,42.3bp);
\end{tikzpicture}
\end{document}
